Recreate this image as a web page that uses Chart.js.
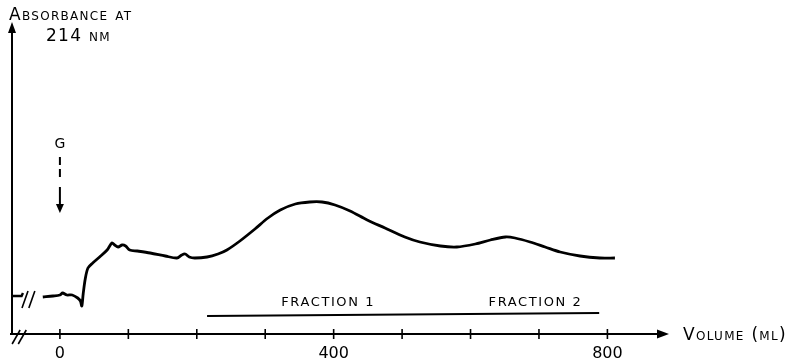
<!DOCTYPE html>
<html>
<head>
<meta charset="utf-8">
<script src="https://cdn.jsdelivr.net/npm/chart.js@4/dist/chart.umd.min.js"></script>
<style>
  html, body { margin: 0; padding: 0; background: #fff; }
  #wrap { width: 789px; height: 362px; }
</style>
</head>
<body>
<div id="wrap"><canvas id="chart" width="789" height="362"></canvas></div>
<script>
// elution volume (ml) and absorbance (arbitrary units)
const leadVolume = [-70, -56, -54];
const leadAbsorbance = [0.38, 0.38, 0.41];

const volume = [
  -25, -10, 0, 4, 10, 18, 26, 30, 32, 34, 37, 41, 48, 58, 69, 76, 80, 85, 91, 96,
  102, 113, 132, 154, 171, 178, 183, 189, 197, 215, 231, 244, 263, 285, 304, 322,
  344, 365, 383, 402, 424, 449, 475, 504, 526, 556, 580, 607, 629, 651, 665, 687,
  709, 731, 760, 789, 811
];
const absorbance = [
  0.37, 0.38, 0.39, 0.41, 0.39, 0.39, 0.36, 0.33, 0.28, 0.40, 0.55, 0.66, 0.71, 0.77, 0.84, 0.91, 0.89, 0.87, 0.89, 0.88,
  0.84, 0.83, 0.81, 0.78, 0.76, 0.79, 0.80, 0.77, 0.76, 0.77, 0.80, 0.84, 0.93, 1.05, 1.16, 1.24,
  1.30, 1.32, 1.32, 1.29, 1.23, 1.14, 1.06, 0.97, 0.92, 0.88, 0.87, 0.90, 0.94, 0.97, 0.96, 0.92,
  0.87, 0.82, 0.78, 0.76, 0.76
];

// collected fractions (ml)
const fractionVolume = [215, 788];
const fractionLevel = [0.18, 0.21];
const fractionNames = ['fraction 1', 'fraction 2'];
const fractionLabelAt = [392, 695];

const xTicks = [0, 100, 200, 300, 400, 500, 600, 700, 800];
const xTickLabels = ['0', '', '', '', '400', '', '', '', '800'];

const toPoints = (xs, ys) => xs.map((x, i) => ({ x: x, y: ys[i] }));

const FONT = '"DejaVu Sans", "Liberation Sans", sans-serif';

// hand drawn look: axes with arrows, crossing ticks, breaks and labels
const decorations = {
  id: 'decorations',
  afterDatasetsDraw(chart) {
    const { ctx, chartArea, scales } = chart;
    const x = scales.x, y = scales.y;
    const x0 = chartArea.left, yAxis = chartArea.bottom;
    const xEnd = x.getPixelForValue(x.max);
    const yTop = chartArea.top;

    ctx.save();
    ctx.strokeStyle = '#000';
    ctx.fillStyle = '#000';
    ctx.lineWidth = 2;
    ctx.lineCap = 'butt';

    // y axis
    ctx.beginPath();
    ctx.moveTo(x0, yAxis);
    ctx.lineTo(x0, yTop + 8);
    ctx.stroke();
    ctx.beginPath();
    ctx.moveTo(x0, yTop);
    ctx.lineTo(x0 - 4, yTop + 11);
    ctx.lineTo(x0 + 4, yTop + 11);
    ctx.closePath();
    ctx.fill();

    // x axis
    ctx.beginPath();
    ctx.moveTo(x0 - 2, yAxis);
    ctx.lineTo(xEnd - 8, yAxis);
    ctx.stroke();
    ctx.beginPath();
    ctx.moveTo(xEnd, yAxis);
    ctx.lineTo(xEnd - 12, yAxis - 4.5);
    ctx.lineTo(xEnd - 12, yAxis + 4.5);
    ctx.closePath();
    ctx.fill();

    // ticks crossing the axis + labels
    ctx.lineWidth = 1.6;
    ctx.font = '16px ' + FONT;
    ctx.textAlign = 'center';
    ctx.textBaseline = 'alphabetic';
    xTicks.forEach((v, i) => {
      const px = x.getPixelForValue(v);
      ctx.beginPath();
      ctx.moveTo(px, yAxis - 5);
      ctx.lineTo(px, yAxis + 5);
      ctx.stroke();
      if (xTickLabels[i]) ctx.fillText(xTickLabels[i], px, yAxis + 24);
    });

    // axis break marks
    ctx.lineWidth = 1.6;
    [-64, -55].forEach(v => {
      const px = x.getPixelForValue(v);
      ctx.beginPath();
      ctx.moveTo(px - 4, yAxis + 10);
      ctx.lineTo(px + 4, yAxis - 4);
      ctx.stroke();
    });
    // trace break marks
    const yb = y.getPixelForValue(0.38);
    [-51, -41].forEach(v => {
      const px = x.getPixelForValue(v);
      ctx.beginPath();
      ctx.moveTo(px - 3, yb + 12);
      ctx.lineTo(px + 3, yb - 5);
      ctx.stroke();
    });

    // G: injection arrow
    const gx = x.getPixelForValue(0);
    ctx.font = '14px ' + FONT;
    ctx.textAlign = 'center';
    ctx.fillText('G', gx, y.getPixelForValue(1.86));
    ctx.lineWidth = 2;
    ctx.setLineDash([8, 4]);
    ctx.beginPath();
    ctx.moveTo(gx, y.getPixelForValue(1.77));
    ctx.lineTo(gx, y.getPixelForValue(1.56));
    ctx.stroke();
    ctx.setLineDash([]);
    ctx.beginPath();
    ctx.moveTo(gx, y.getPixelForValue(1.47));
    ctx.lineTo(gx, y.getPixelForValue(1.28));
    ctx.stroke();
    const tip = y.getPixelForValue(1.21);
    ctx.beginPath();
    ctx.moveTo(gx, tip);
    ctx.lineTo(gx - 4, tip - 9);
    ctx.lineTo(gx + 4, tip - 9);
    ctx.closePath();
    ctx.fill();

    // fraction names
    ctx.font = '13px ' + FONT;
    ctx.letterSpacing = '1.6px';
    fractionNames.forEach((name, i) => {
      ctx.fillText(name.toUpperCase(), x.getPixelForValue(fractionLabelAt[i]), y.getPixelForValue(0.28));
    });

    // axis titles
    ctx.letterSpacing = '1.3px';
    ctx.textAlign = 'left';
    ctx.fontVariantCaps = 'small-caps';
    ctx.font = 'small-caps 17px ' + FONT;
    ctx.fillText('Absorbance at', 9, 20);
    ctx.fillText('214 nm', 46, 41);
    ctx.fillText('Volume (ml)', 683, yAxis + 6);
    ctx.restore();
  }
};

new Chart(document.getElementById('chart'), {
  type: 'line',
  data: {
    datasets: [
      {
        data: toPoints(leadVolume, leadAbsorbance),
        borderColor: '#000',
        borderWidth: 2.4,
        pointRadius: 0,
        tension: 0
      },
      {
        data: toPoints(volume, absorbance),
        borderColor: '#000',
        borderWidth: 2.8,
        pointRadius: 0,
        tension: 0.3
      },
      {
        data: toPoints(fractionVolume, fractionLevel),
        borderColor: '#000',
        borderWidth: 2,
        pointRadius: 0,
        tension: 0
      }
    ]
  },
  options: {
    responsive: false,
    animation: false,
    layout: { padding: { left: 12, top: 22, right: 120, bottom: 28 } },
    plugins: { legend: { display: false }, tooltip: { enabled: false } },
    scales: {
      x: { type: 'linear', min: -70, max: 890, display: false },
      y: { min: 0, max: 3.12, display: false }
    }
  },
  plugins: [decorations]
});
</script>
</body>
</html>
